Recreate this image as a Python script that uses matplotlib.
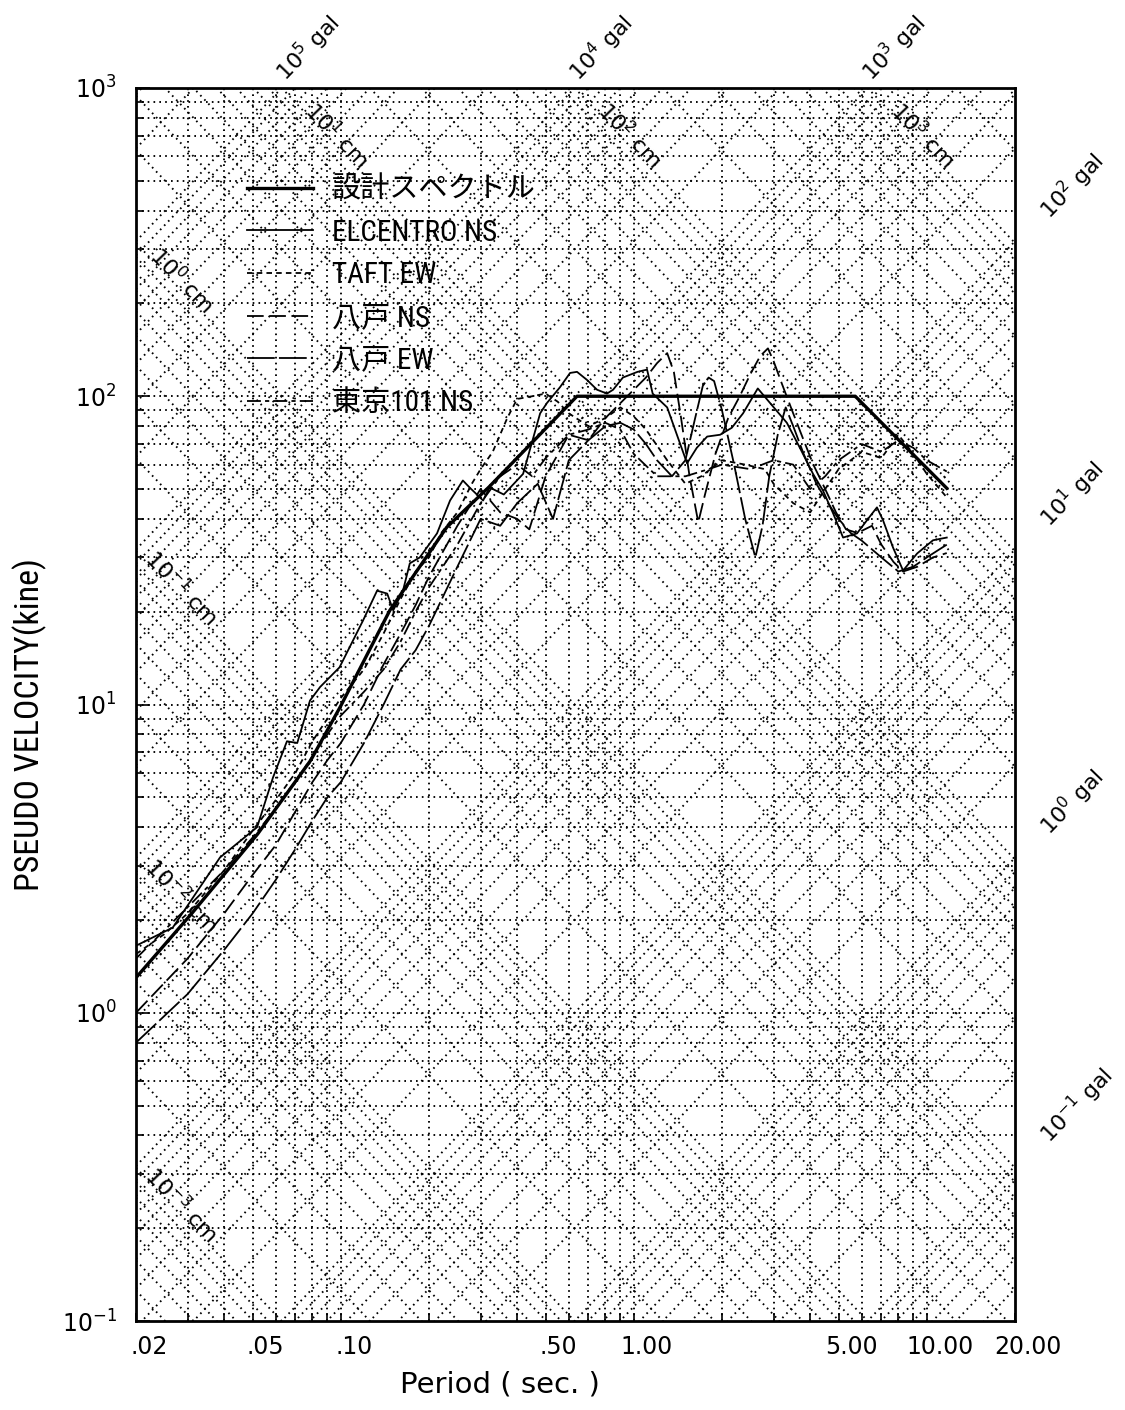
import numpy as np
import matplotlib
matplotlib.use("Agg")
import matplotlib.pyplot as plt
from matplotlib.lines import Line2D
from matplotlib import font_manager
import matplotlib.transforms as mtransforms

plt.rcParams['mathtext.default'] = 'regular'
plt.rcParams['lines.scale_dashes'] = False

_names = {f.name for f in font_manager.fontManager.ttflist}
NARROW = 'DejaVu Sans'
for cand in ['Liberation Sans Narrow', 'Roboto Condensed', 'Open Sans Condensed']:
    if cand in _names:
        NARROW = cand
        break
CJK = 'Noto Sans CJK JP'

# ---------------- spectra: period (sec) / pseudo velocity (kine) ----------------
design_T = [0.02, 0.031, 0.052, 0.079, 0.10, 0.147, 0.23, 0.32, 0.64, 5.7, 11.7]
design_V = [1.3, 2.1, 3.8, 6.6, 9.9, 20.2, 37.6, 50.7, 100, 100, 50.3]

elcentro_T = [0.02, 0.0267, 0.0387, 0.0518, 0.0587, 0.0655, 0.071, 0.0785, 0.085, 0.099,
              0.119, 0.133, 0.144, 0.151, 0.163, 0.172, 0.186, 0.213, 0.236, 0.261,
              0.275, 0.306, 0.322, 0.36, 0.419, 0.479, 0.505, 0.56, 0.606, 0.64,
              0.692, 0.749, 0.81, 0.85, 0.918, 1.03, 1.11, 1.16, 1.30, 1.44,
              1.52, 1.64, 1.78, 1.97, 2.16, 2.36, 2.65, 2.92, 3.33, 3.69,
              4.09, 4.42, 4.79, 5.18, 5.78, 6.25, 6.76, 7.09, 7.67, 8.3,
              9.27, 10.5, 11.7]
elcentro_V = [1.65, 1.89, 3.19, 4.0, 5.8, 7.6, 7.5, 10.3, 11.4, 13.2,
              18.7, 23.4, 22.9, 20.2, 23.4, 28.7, 30.0, 35.9, 45.9, 53.3,
              50.6, 45.9, 50.6, 48, 56, 88, 95, 107, 119, 120,
              113, 105, 102, 105, 115, 120, 122, 102, 92, 70,
              60.6, 68, 74, 75, 79, 88, 106, 95, 82, 68,
              56, 49.5, 41.7, 34.8, 35.9, 39.6, 43.6, 39.6, 32.3, 27.2,
              30.9, 34.1, 34.8]

taft_T = [0.02, 0.025, 0.03, 0.04, 0.05, 0.06, 0.07, 0.08, 0.09, 0.10,
          0.12, 0.14, 0.16, 0.18, 0.20, 0.22, 0.25, 0.28, 0.30, 0.33,
          0.37, 0.40, 0.45, 0.50, 0.55, 0.60, 0.70, 0.80, 0.90, 1.0,
          1.1, 1.3, 1.5, 1.7, 2.0, 2.4, 2.8, 3.0, 3.5, 4.0,
          4.5, 5.0, 5.5, 6.0, 7.0, 8.0, 9.0, 10.0, 11.7]
taft_V = [1.55, 1.8, 2.1, 2.9, 3.9, 4.9, 6.0, 7.6, 9.0, 10.5,
          13, 17, 22, 27, 30, 36, 42, 52, 58, 66,
          85, 98, 100, 102, 96, 88, 80, 85, 92, 86,
          78, 62, 52, 55, 62, 60, 58, 52, 45, 42,
          50, 58, 62, 66, 63, 75, 65, 56, 47]

hachi_ns_T = [0.02, 0.03, 0.04, 0.05, 0.06, 0.07, 0.08, 0.09, 0.10, 0.12,
              0.14, 0.16, 0.18, 0.20, 0.25, 0.30, 0.35, 0.40, 0.44, 0.5,
              0.6, 0.7, 0.8, 0.9, 1.0, 1.1, 1.2, 1.3, 1.37, 1.45,
              1.55, 1.66, 1.75, 1.9, 2.1, 2.3, 2.5, 2.7, 2.87, 3.0,
              3.2, 3.5, 3.8, 4.1, 4.5, 4.9, 5.3, 5.8, 6.5, 7.0,
              7.7, 8.3, 9.3, 10.5, 11.7]
hachi_ns_V = [1.0, 1.5, 2.1, 2.8, 3.5, 4.5, 5.6, 6.6, 7.5, 10,
              13.5, 17, 21, 26, 38, 50, 42, 40, 37, 55,
              75, 72, 85, 95, 105, 115, 128, 138, 120, 85,
              55, 39, 48, 65, 85, 100, 118, 135, 143, 130,
              110, 88, 72, 60, 50, 42, 37, 36, 38, 33,
              29, 27, 28, 30, 31]

hachi_ew_T = [0.02, 0.03, 0.04, 0.05, 0.06, 0.07, 0.08, 0.09, 0.10, 0.12,
              0.14, 0.16, 0.18, 0.20, 0.25, 0.30, 0.35, 0.40, 0.47, 0.53,
              0.6, 0.7, 0.8, 0.9, 1.0, 1.1, 1.2, 1.35, 1.5, 1.62,
              1.72, 1.8, 1.88, 2.0, 2.2, 2.4, 2.6, 2.75, 2.9, 3.1,
              3.3, 3.5, 3.8, 4.2, 4.6, 5.0, 5.5, 6.0, 7.0, 8.0,
              9.0, 10.0, 11.7]
hachi_ew_V = [0.8, 1.15, 1.6, 2.1, 2.7, 3.4, 4.2, 5.0, 5.6, 7.5,
              10, 13, 15, 18, 28, 40, 38, 45, 52, 40,
              62, 72, 80, 82, 78, 70, 62, 55, 62, 85,
              108, 115, 112, 90, 60, 40, 30, 38, 55, 75,
              92, 80, 65, 52, 45, 40, 36, 34, 30, 27,
              28, 30, 33]

tokyo_T = [0.02, 0.03, 0.04, 0.05, 0.06, 0.07, 0.08, 0.09, 0.10, 0.12,
           0.14, 0.16, 0.18, 0.20, 0.25, 0.30, 0.35, 0.40, 0.45, 0.5,
           0.6, 0.7, 0.8, 0.9, 1.0, 1.2, 1.5, 1.8, 2.0, 2.5,
           3.0, 3.5, 4.0, 4.5, 5.0, 6.0, 7.0, 8.0, 9.0, 10.0, 11.7]
tokyo_V = [1.5, 2.2, 2.9, 3.7, 4.6, 5.6, 6.8, 8, 9.2, 11,
           13, 16, 20, 24, 33, 45, 55, 60, 55, 63,
           75, 78, 82, 78, 65, 55, 55, 58, 60, 58,
           62, 60, 50, 55, 62, 70, 66, 72, 68, 62, 57]

series_labels = ['設計スペクトル', 'ELCENTRO NS', 'TAFT EW', '八戸 NS', '八戸 EW', '東京101 NS']

# tick labels
xticks = [0.02, 0.05, 0.1, 0.5, 1.0, 5.0, 10.0, 20.0]
xtick_labels = ['.02', '.05', '.10', '.50', '1.00', '5.00', '10.00', '20.00']
yticks = [0.1, 1, 10, 100, 1000]
ytick_labels = ['$10^{-1}$', '$10^{0}$', '$10^{1}$', '$10^{2}$', '$10^{3}$']

gal_top = [5, 4, 3]          # exponents of acceleration labels on the top edge
gal_right = [2, 1, 0, -1]    # exponents of acceleration labels on the right edge
cm_top = [1, 2, 3]           # displacement labels near the top edge
cm_left = [0, -1, -2, -3]    # displacement labels near the left edge

TMIN, TMAX, VMIN, VMAX = 0.02, 20.0, 0.1, 1000.0
TWO_PI = 2 * np.pi

fig = plt.figure(figsize=(11.25, 14.10), dpi=100)
ax = fig.add_axes([0.1209, 0.0631, 0.7813, 0.8745])
ax.set_xscale('log')
ax.set_yscale('log')
ax.set_xlim(TMIN, TMAX)
ax.set_ylim(VMIN, VMAX)

dot = dict(color='black', lw=1.35, ls=(0, (1.2, 3.0)), zorder=1)

# orthogonal grid
for k in range(-1, 3):
    for m in range(1, 10):
        v = m * 10.0 ** k
        if VMIN < v < VMAX:
            ax.axhline(v, **dot)
for k in range(-2, 2):
    for m in range(1, 10):
        t = m * 10.0 ** k
        if TMIN < t < TMAX:
            ax.axvline(t, **dot)

# diagonal grid: constant displacement (slope -1) and constant acceleration (slope +1)
Tline = np.array([TMIN, TMAX])
for k in range(-4, 4):
    for m in range(1, 10):
        d = m * 10.0 ** k
        ax.plot(Tline, TWO_PI * d / Tline, **dot)
for k in range(-2, 6):
    for m in range(1, 10):
        a = m * 10.0 ** k
        ax.plot(Tline, a * Tline / TWO_PI, **dot)

# spectra
styles = [
    dict(color='black', lw=2.4, ls='-'),
    dict(color='black', lw=1.3, ls='-'),
    dict(color='black', lw=1.3, ls=(0, (4, 3))),
    dict(color='black', lw=1.3, ls=(0, (12, 4))),
    dict(color='black', lw=1.3, ls=(0, (20, 3))),
    dict(color='black', lw=1.3, ls=(0, (10, 3, 3, 3))),
]
data = [(design_T, design_V), (elcentro_T, elcentro_V), (taft_T, taft_V),
        (hachi_ns_T, hachi_ns_V), (hachi_ew_T, hachi_ew_V), (tokyo_T, tokyo_V)]
handles = []
for (T, V), st, lab in zip(data, styles, series_labels):
    ax.plot(T, V, zorder=3, **st)
    handles.append(Line2D([], [], **st))

leg = ax.legend(handles, series_labels, loc='upper left', bbox_to_anchor=(0.113, 0.938),
                frameon=False, handlelength=2.25, handletextpad=0.65, labelspacing=0.5,
                borderaxespad=0, prop=dict(family=[NARROW, CJK], size=21))

# axes frame & ticks
for s in ax.spines.values():
    s.set_linewidth(2.0)
ax.set_xticks(xticks)
ax.set_xticklabels(xtick_labels, fontsize=17)
minor_x = [m * 10.0 ** k for k in range(-2, 2) for m in range(1, 10)
           if TMIN < m * 10.0 ** k < TMAX and m * 10.0 ** k not in xticks]
ax.set_xticks(minor_x, minor=True)
ax.set_xticklabels([], minor=True)
ax.set_yticks(yticks)
ax.set_yticklabels(ytick_labels, fontsize=17)
minor_y = [m * 10.0 ** k for k in range(-1, 3) for m in range(2, 10)]
ax.set_yticks(minor_y, minor=True)
ax.set_yticklabels([], minor=True)
ax.tick_params(axis='both', which='both', direction='in', top=False, right=False)
ax.tick_params(axis='x', which='both', length=6, width=1.2, pad=10)
ax.tick_params(axis='y', which='major', length=10, width=1.2, pad=14)
ax.tick_params(axis='y', which='minor', length=6, width=1.2)
shift = mtransforms.ScaledTranslation(13 / 100, 0, fig.dpi_scale_trans)
for lbl in ax.get_xticklabels():
    lbl.set_transform(lbl.get_transform() + shift)

ax.set_xlabel('Period ( sec. )', fontsize=21)
ax.xaxis.set_label_coords(0.414, -0.040)
ax.set_ylabel('PSEUDO VELOCITY(kine)', fontsize=24.5, family=NARROW)
ax.yaxis.set_label_coords(-0.101, 0.484)

# acceleration labels (gal), along +45 deg lines outside the frame
for e in gal_top:
    t = TWO_PI * VMAX / 10.0 ** e
    ax.annotate(f'$10^{{{e}}}$ gal', xy=(t, VMAX), xycoords='data',
                xytext=(7, 1), textcoords='offset points', rotation=46,
                rotation_mode='anchor', ha='left', va='bottom', fontsize=16,
                annotation_clip=False)
for e in gal_right:
    v = 10.0 ** e * TMAX / TWO_PI
    ax.annotate(f'$10^{{{e}}}$ gal', xy=(TMAX, v), xycoords='data',
                xytext=(29, 12), textcoords='offset points', rotation=46,
                rotation_mode='anchor', ha='left', va='bottom', fontsize=16,
                annotation_clip=False)

# displacement labels (cm), along -45 deg lines inside the frame
for e in cm_top:
    d = 10.0 ** e
    t = TWO_PI * d / VMAX * 10 ** (50 / 293)
    ax.annotate(f'$10^{{{e}}}$ cm', xy=(t, TWO_PI * d / t), xycoords='data',
                xytext=(4, 4), textcoords='offset points', rotation=-46,
                rotation_mode='anchor', ha='center', va='center', fontsize=16, zorder=4)
for e in cm_left:
    d = 10.0 ** e
    t = TMIN * 10 ** (40 / 293)
    ax.annotate(f'$10^{{{e}}}$ cm', xy=(t, TWO_PI * d / t), xycoords='data',
                xytext=(4, 4), textcoords='offset points', rotation=-46,
                rotation_mode='anchor', ha='center', va='center', fontsize=16, zorder=4)

fig.savefig('out.png', dpi=100, facecolor='white')
